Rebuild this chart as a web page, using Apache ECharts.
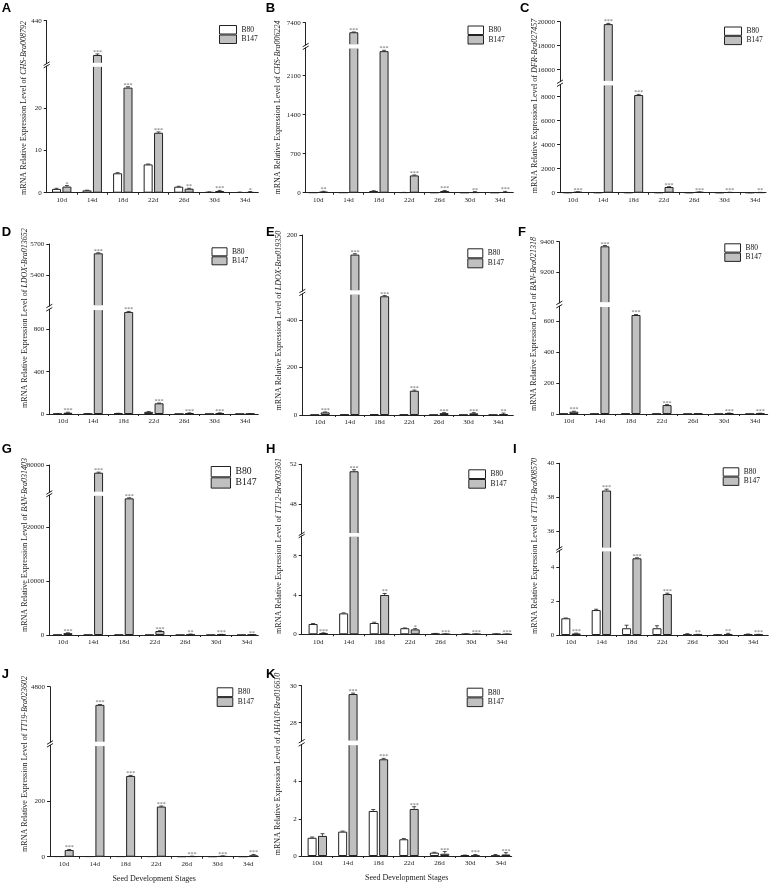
<!DOCTYPE html>
<html><head><meta charset="utf-8">
<script src="https://cdn.jsdelivr.net/npm/echarts@6/dist/echarts.min.js"></script>
<style>html,body{margin:0;padding:0;background:#fff}#c{width:778px;height:884px}</style>
</head><body><div id="c"></div>
<script>
const categories = ['10d','14d','18d','22d','26d','30d','34d'];
const seriesNames = ['B80','B147'];
const yPrefix = 'mRNA Relative Expression Level of ';
const xTitle = 'Seed Development Stages';

const A_b80 = [0.9, 0.55, 4.6, 6.7, 1.42, 0.15, 0.1];
const A_b80Err = [0.15, 0.05, 0.15, 0.1, 0.1, 0.05, 0.05];
const A_b147 = [1.45, 408, 24.9, 14.2, 0.95, 0.4, 0.12];
const A_b147Err = [0.25, 1, 0.2, 0.2, 0.1, 0.15, 0.15];
const A_sig = ['*','***','***','***','**','***','*'];
const A_loTicks = [0, 10, 20];
const A_hiTicks = [440];

const B_b80 = [3, 3, 30, 5, 2, 1, 1];
const B_b80Err = [1, 1, 5, 1, 1, 0, 0];
const B_b147 = [18, 6800, 2540, 310, 30, 5, 8];
const B_b147Err = [8, 20, 15, 8, 10, 15, 15];
const B_sig = ['**','***','***','***','***','**','***'];
const B_loTicks = [0, 700, 1400, 2100];
const B_hiTicks = [7400];

const C_b80 = [5, 5, 5, 5, 3, 2, 2];
const C_b80Err = [2, 2, 2, 2, 1, 1, 1];
const C_b147 = [70, 19800, 8140, 475, 60, 30, 20];
const C_b147Err = [10, 60, 50, 30, 10, 10, 10];
const C_sig = ['***','***','***','***','***','***','**'];
const C_loTicks = [0, 2000, 4000, 6000, 8000];
const C_hiTicks = [16000, 18000, 20000];

const D_b80 = [2, 2, 6, 20, 1, 1, 1];
const D_b80Err = [1, 1, 1, 3, 0, 0, 0];
const D_b147 = [12, 5610, 965, 101, 8, 8, 2];
const D_b147Err = [5, 5, 5, 3, 3, 3, 1];
const D_sig = ['***','***','***','***','***','***',''];
const D_loTicks = [0, 400, 800];
const D_hiTicks = [5400, 5700];

const E_b80 = [1, 2, 3, 2, 1, 1, 1];
const E_b80Err = [0, 0, 0, 0, 0, 0, 0];
const E_b147 = [11, 1130, 500, 102, 8, 7, 3];
const E_b147Err = [2, 3, 3, 3, 2, 3, 5];
const E_sig = ['***','***','***','***','***','***','**'];
const E_loTicks = [0, 200, 400];
const E_hiTicks = [1200];
const E_hiTickText = ['200'];

const F_b80 = [2, 2, 3, 2, 1, 1, 1];
const F_b80Err = [0, 0, 0, 0, 0, 0, 0];
const F_b147 = [15, 9370, 643, 58, 3, 4, 3];
const F_b147Err = [3, 5, 3, 3, 0, 2, 2];
const F_sig = ['***','***','***','***','','***','***'];
const F_loTicks = [0, 200, 400, 600];
const F_hiTicks = [9200, 9400];

const G_b80 = [30, 30, 40, 20, 10, 10, 10];
const G_b80Err = [0, 0, 0, 0, 0, 0, 0];
const G_b147 = [350, 77200, 25400, 740, 60, 80, 40];
const G_b147Err = [60, 200, 100, 60, 120, 40, 40];
const G_sig = ['***','***','***','***','**','***','**'];
const G_loTicks = [0, 10000, 20000];
const G_hiTicks = [80000];

const H_b80 = [1.05, 2.13, 1.15, 0.62, 0.07, 0.03, 0.03];
const H_b80Err = [0.05, 0.05, 0.08, 0.03, 0.02, 0.01, 0.01];
const H_b147 = [0.12, 51.3, 4.0, 0.5, 0.02, 0.02, 0.01];
const H_b147Err = [0.03, 0.15, 0.15, 0.08, 0.02, 0.02, 0.02];
const H_sig = ['***','***','**','*','***','***','***'];
const H_loTicks = [0, 4, 8];
const H_hiTicks = [48, 52];

const I_b80 = [0.99, 1.48, 0.4, 0.4, 0.03, 0.01, 0.03];
const I_b80Err = [0.02, 0.05, 0.18, 0.15, 0.05, 0.01, 0.03];
const I_b147 = [0.09, 38.4, 4.55, 2.43, 0.02, 0.04, 0.02];
const I_b147Err = [0.02, 0.08, 0.03, 0.05, 0.02, 0.06, 0.02];
const I_sig = ['***','***','***','***','**','**','***'];
const I_loTicks = [0, 2, 4];
const I_hiTicks = [36, 38, 40];

const J_b80 = [1, 1, 1, 1, 0.5, 0.5, 0.5];
const J_b80Err = [0, 0, 0, 0, 0, 0, 0];
const J_b147 = [24, 4540, 290, 180, 1, 2, 5];
const J_b147Err = [2, 5, 2, 2, 1, 1, 3];
const J_sig = ['***','***','***','***','***','***','***'];
const J_loTicks = [0, 200];
const J_hiTicks = [4800];

const K_b80 = [0.98, 1.31, 2.42, 0.9, 0.18, 0.04, 0.02];
const K_b80Err = [0.04, 0.03, 0.08, 0.04, 0.02, 0.01, 0.06];
const K_b147 = [1.08, 29.55, 5.2, 2.53, 0.12, 0.03, 0.08];
const K_b147Err = [0.12, 0.05, 0.05, 0.12, 0.12, 0.05, 0.1];
const K_sig = ['','***','***','***','***','***','***'];
const K_loTicks = [0, 2, 4];
const K_hiTicks = [28, 30];

const SERIF = '"Liberation Serif", "Times New Roman", serif';
const SANS = '"Liberation Sans", Arial, sans-serif';
const INK = '#222';

// panel definitions: data references + layout (pixels)
const panels = [
 {id:'A', gene:'CHS-Bra008792', b80:A_b80, e80:A_b80Err, b147:A_b147, e147:A_b147Err, sig:A_sig, lo:[0,30], hi:[400,440], loTicks:A_loTicks, hiTicks:A_hiTicks,
  x0:46.7, x1:258.3, c10:61.7, c34:245, yTop:20.7, upBot:63.6, loTop:66.1, yBot:192.7, title:[24,108], letter:[1.7,3.3], leg:[219,25,17,8.5,7.5]},
 {id:'B', gene:'CHS-Bra006224', b80:B_b80, e80:B_b80Err, b147:B_b147, e147:B_b147Err, sig:B_sig, lo:[0,2600], hi:[6000,7400], loTicks:B_loTicks, hiTicks:B_hiTicks,
  x0:305.7, x1:513.3, c10:318.3, c34:500, yTop:22.7, upBot:45, loTop:47.8, yBot:192.7, title:[277.5,107.5], letter:[265.7,4], leg:[467.5,25.5,15.5,8.5,7.5]},
 {id:'C', gene:'DFR-Bra027457', b80:C_b80, e80:C_b80Err, b147:C_b147, e147:C_b147Err, sig:C_sig, lo:[0,9000], hi:[15000,20000], loTicks:C_loTicks, hiTicks:C_hiTicks,
  x0:560, x1:766, c10:572.7, c34:755, yTop:21.7, upBot:81.7, loTop:84.7, yBot:192.7, title:[535,106], letter:[520,4], leg:[724,26.5,17,8.3,7.5]},
 {id:'D', gene:'LDOX-Bra013652', b80:D_b80, e80:D_b80Err, b147:D_b147, e147:D_b147Err, sig:D_sig, lo:[0,990], hi:[5100,5700], loTicks:D_loTicks, hiTicks:D_hiTicks,
  x0:49.3, x1:258.3, c10:62.7, c34:245, yTop:244, upBot:306, loTop:309.3, yBot:414, title:[25,318], letter:[1.7,228], leg:[211.5,247.3,15,8,7.5]},
 {id:'E', gene:'LDOX-Bra019350', b80:E_b80, e80:E_b80Err, b147:E_b147, e147:E_b147Err, sig:E_sig, lo:[0,510], hi:[1000,1200], loTicks:E_loTicks, hiTicks:E_hiTicks, hiText:E_hiTickText,
  x0:302.3, x1:513.3, c10:320, c34:498.3, yTop:235, upBot:291, loTop:293.9, yBot:415, title:[279,320.5], letter:[266,228], leg:[467.3,248.3,15,9,7.5]},
 {id:'F', gene:'BAN-Bra021318', b80:F_b80, e80:F_b80Err, b147:F_b147, e147:F_b147Err, sig:F_sig, lo:[0,700], hi:[9000,9400], loTicks:F_loTicks, hiTicks:F_hiTicks,
  x0:559.3, x1:767.7, c10:568.7, c34:755, yTop:241.7, upBot:302.9, loTop:306.2, yBot:414, title:[533.5,324], letter:[518,228], leg:[724.3,243.3,15.7,8.3,7.5]},
 {id:'G', gene:'BAN-Bra031403', b80:G_b80, e80:G_b80Err, b147:G_b147, e147:G_b147Err, sig:G_sig, lo:[0,26000], hi:[70000,80000], loTicks:G_loTicks, hiTicks:G_hiTicks,
  x0:49.3, x1:258.3, c10:62.7, c34:246.7, yTop:465, upBot:492.5, loTop:495.1, yBot:635, title:[25,545], letter:[1.7,444.5], leg:[210.7,466,19.3,10.3,9.7]},
 {id:'H', gene:'TT12-Bra003361', b80:H_b80, e80:H_b80Err, b147:H_b147, e147:H_b147Err, sig:H_sig, lo:[0,10], hi:[45,52], loTicks:H_loTicks, hiTicks:H_hiTicks,
  x0:301.7, x1:511.7, c10:318.3, c34:501.7, yTop:464.3, upBot:533.8, loTop:536, yBot:634.3, title:[279,546], letter:[266,445], leg:[468.3,469.3,16.7,8.7,7.5]},
 {id:'I', gene:'TT19-Bra008570', b80:I_b80, e80:I_b80Err, b147:I_b147, e147:I_b147Err, sig:I_sig, lo:[0,5], hi:[35,40], loTicks:I_loTicks, hiTicks:I_hiTicks,
  x0:559.3, x1:768.3, c10:571, c34:753.3, yTop:463.3, upBot:548.3, loTop:550.7, yBot:635, title:[535,546], letter:[513,445], leg:[722.7,467.3,15.6,8.3,7.5]},
 {id:'J', gene:'TT19-Bra023602', b80:J_b80, e80:J_b80Err, b147:J_b147, e147:J_b147Err, sig:J_sig, lo:[0,400], hi:[4000,4800], loTicks:J_loTicks, hiTicks:J_hiTicks, xName:true,
  x0:50, x1:258.3, c10:64, c34:248.3, yTop:686.7, upBot:742.5, loTop:745.3, yBot:856.7, title:[25,764], letter:[1.7,670], leg:[216.7,687.3,15.6,8.8,7.5]},
 {id:'K', gene:'AHA10-Bra016610', b80:K_b80, e80:K_b80Err, b147:K_b147, e147:K_b147Err, sig:K_sig, lo:[0,6], hi:[27,30], loTicks:K_loTicks, hiTicks:K_hiTicks, xName:true,
  x0:301.7, x1:511.7, c10:317.3, c34:500.7, yTop:685.7, upBot:741.2, loTop:744.4, yBot:856, title:[277.5,764], letter:[266,670], leg:[466.7,687.7,15.6,8.7,7.5]}
];

const BW = 9, GAP = 1.4;
const OFF = (BW + GAP) / 2;
const grid = [], xAxis = [], yAxis = [], series = [], legend = [], graphic = [];

panels.forEach(p => {
  const sp = (p.c34 - p.c10) / 6;
  const xmin = -(p.c10 - p.x0) / sp;
  const xmax = 6 + (p.x1 - p.c34) / sp;
  const segs = [
    {kind:'lo', top:p.loTop, bottom:p.yBot, range:p.lo, ticks:p.loTicks, text:null},
    {kind:'hi', top:p.yTop, bottom:p.upBot, range:p.hi, ticks:p.hiTicks, text:p.hiText || null}
  ];
  segs.forEach(seg => {
    const gi = grid.length;
    grid.push({left:p.x0, top:seg.top, width:p.x1 - p.x0, height:seg.bottom - seg.top, containLabel:false, outerBoundsMode:'none'});
    const isLo = seg.kind === 'lo';
    xAxis.push({
      gridIndex:gi, type:'value', min:xmin, max:xmax, show:isLo,
      axisLine:{show:true, onZero:false, lineStyle:{color:INK, width:1}},
      axisTick:{show:true, length:2, customValues:[0.5,1.5,2.5,3.5,4.5,5.5], lineStyle:{color:INK}},
      axisLabel:{show:true, customValues:[0,1,2,3,4,5,6], formatter:v => categories[Math.round(v)] || '', margin:4, color:INK, fontFamily:SERIF, fontSize:7},
      splitLine:{show:false},
      name: (isLo && p.xName) ? xTitle : '', nameLocation:'middle', nameGap:18,
      nameTextStyle:{fontFamily:SERIF, fontSize:8, color:INK}
    });
    yAxis.push({
      gridIndex:gi, type:'value', min:seg.range[0], max:seg.range[1],
      axisLine:{show:true, onZero:false, lineStyle:{color:INK, width:1}},
      axisTick:{show:true, length:3, customValues:seg.ticks, lineStyle:{color:INK}},
      axisLabel:{show:true, customValues:seg.ticks, margin:5, color:INK, fontFamily:SERIF, fontSize:7,
        formatter: v => { const k = seg.ticks.indexOf(v); return (seg.text && k >= 0) ? seg.text[k] : String(v); }},
      splitLine:{show:false}
    });
    series.push({
      type:'bar', name:seriesNames[0], xAxisIndex:gi, yAxisIndex:gi, barWidth:BW, barGap:(GAP / BW * 100) + '%',
      data:p.b80.map((v, i) => [i, v]), clip:true, silent:true, animation:false,
      itemStyle:{color:'#ffffff', borderColor:INK, borderWidth:1}
    });
    series.push({
      type:'bar', name:seriesNames[1], xAxisIndex:gi, yAxisIndex:gi, barWidth:BW, barGap:(GAP / BW * 100) + '%',
      data:p.b147.map((v, i) => [i, v]), clip:true, silent:true, animation:false,
      itemStyle:{color:'#c0c0c0', borderColor:INK, borderWidth:1}
    });
    series.push({
      type:'custom', xAxisIndex:gi, yAxisIndex:gi, z:3, silent:true, animation:false, clip:false,
      data:categories.map((c, i) => [i]),
      renderItem:(params, api) => {
        const i = api.value(0);
        const cx = api.coord([i, seg.range[0]])[0];
        const inSeg = v => isLo ? v <= seg.range[1] : v >= seg.range[0];
        const kids = [];
        const items = [[p.b80[i], p.e80[i], cx - OFF], [p.b147[i], p.e147[i], cx + OFF]];
        items.forEach(([v, e, x]) => {
          if (!inSeg(v) || !(e > 0)) return;
          const y0 = api.coord([i, v])[1], y1 = api.coord([i, v + e])[1];
          kids.push({type:'line', shape:{x1:x, y1:y0, x2:x, y2:y1}, style:{stroke:INK, lineWidth:0.8}});
          kids.push({type:'line', shape:{x1:x - 2, y1:y1, x2:x + 2, y2:y1}, style:{stroke:INK, lineWidth:0.8}});
        });
        if (!isLo) {
          items.forEach(([v, e, x]) => {
            if (v >= seg.range[0]) {
              kids.push({type:'rect', shape:{x:x - BW / 2 - 1.5, y:p.upBot - 0.8, width:BW + 3, height:p.loTop - p.upBot + 1.6}, style:{fill:'#ffffff'}});
            }
          });
        }
        const s = p.sig[i];
        if (s && inSeg(p.b147[i])) {
          const yt = api.coord([i, p.b147[i] + p.e147[i]])[1];
          kids.push({type:'text', x:cx + OFF, y:yt - 1.6, style:{text:s, fill:'#666', font:'6px ' + SERIF, align:'center', verticalAlign:'middle', textAlign:'center', textVerticalAlign:'middle'}});
        }
        return {type:'group', children:kids};
      }
    });
  });

  legend.push({
    left:p.leg[0], top:p.leg[1], orient:'vertical', padding:0, itemGap:0, selectedMode:false,
    itemWidth:p.leg[2], itemHeight:p.leg[3], icon:'rect', data:seriesNames,
    itemStyle:{borderColor:INK, borderWidth:1},
    textStyle:{fontFamily:SERIF, fontSize:p.leg[4], color:'#111', lineHeight:p.leg[3]}
  });

  // panel letter
  graphic.push({type:'text', x:p.letter[0], y:p.letter[1] + 4.7, silent:true,
    style:{text:p.id, font:'bold 13px ' + SANS, fill:'#000', align:'left', verticalAlign:'middle', textAlign:'left', textVerticalAlign:'middle'}});
  // y-axis title
  graphic.push({type:'text', x:p.title[0], y:p.title[1], rotation:Math.PI / 2, silent:true,
    style:{text:'{n|' + yPrefix + '}{g|' + p.gene + '}', align:'center', verticalAlign:'middle', textAlign:'center', textVerticalAlign:'middle',
      rich:{n:{fontFamily:SERIF, fontSize:8, fill:INK, color:INK}, g:{fontFamily:SERIF, fontSize:8, fontStyle:'italic', fill:INK, color:INK}}}});
  // axis break marks
  [p.upBot, p.loTop].forEach(e => {
    graphic.push({type:'line', silent:true, shape:{x1:p.x0 - 3, y1:e + 1.8, x2:p.x0 + 3, y2:e - 1.8}, style:{stroke:INK, lineWidth:1}});
  });
});

const chart = echarts.init(document.getElementById('c'), null, {renderer:'canvas'});
chart.setOption({animation:false, backgroundColor:'#ffffff', grid, xAxis, yAxis, series, legend, graphic});
</script></body></html>
